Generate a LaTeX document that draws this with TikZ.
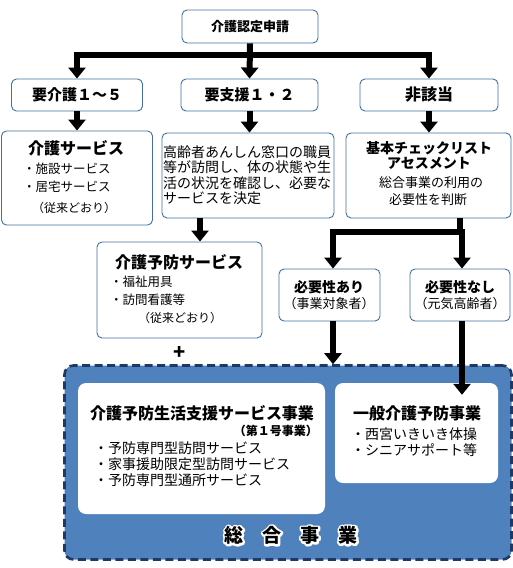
\documentclass[tikz,border=0pt]{standalone}
\usepackage{fontspec}
\setmainfont{Noto Sans CJK JP}
\usetikzlibrary{arrows.meta}
\definecolor{boxline}{RGB}{65,113,156}
\definecolor{regionfill}{RGB}{79,129,189}
\definecolor{regionline}{RGB}{31,56,100}
\newcommand{\jfs}[2]{\fontsize{#1}{#2}\selectfont}
\begin{document}
\begin{tikzpicture}[x=1pt,y=-1pt,
  box/.style={draw=boxline, line width=0.9pt, rounded corners=5pt, fill=white, inner sep=0pt},
  inbox/.style={fill=white, rounded corners=8pt, inner sep=0pt},
  txt/.style={inner sep=0pt, text=black},
  conn/.style={line width=6pt, black},
  tipend/.style={-{Triangle[width=17pt,length=11pt]}},
  tipboth/.style={{Triangle[width=17pt,length=11pt]}-{Triangle[width=17pt,length=11pt]}}
]
\useasboundingbox (0,0) rectangle (513,568);

% ---- big region ----
\node[draw=regionline, fill=regionfill, line width=2.6pt, dash pattern=on 8pt off 4.5pt,
      rounded corners=9pt, minimum width=447pt, minimum height=194pt, inner sep=0pt]
      (region) at (288,462.5) {};
\node[inbox, minimum width=247pt, minimum height=131pt] (inner1) at (201.5,448.5) {};
\node[inbox, minimum width=163pt, minimum height=100pt] (inner2) at (416.5,433) {};

% ---- boxes ----
\node[box, minimum width=136pt, minimum height=33pt] (apply) at (250,26.5) {};
\node[box, minimum width=131pt, minimum height=32pt] (kaigo) at (77,95) {};
\node[box, minimum width=137pt, minimum height=32pt] (shien) at (249.5,95) {};
\node[box, minimum width=138pt, minimum height=32pt] (higai) at (429,95) {};
\node[box, minimum width=151pt, minimum height=94pt] (kserv) at (77,178) {};
\node[box, minimum width=172pt, minimum height=85pt] (kourei) at (248,175.5) {};
\node[box, minimum width=165pt, minimum height=85pt] (check) at (428.5,175.5) {};
\node[box, minimum width=165pt, minimum height=96pt] (yobou) at (179.5,290) {};
\node[box, minimum width=101pt, minimum height=52pt] (ari) at (329.5,295) {};
\node[box, minimum width=100pt, minimum height=52pt] (nashi) at (460,295) {};

% ---- connectors ----
\coordinate (bar) at (250,55);
\coordinate (bar2) at (400,232);
\draw[conn, tipend] (apply.south) -- (shien.north);
\draw[conn, tipboth] (kaigo.north) -- (kaigo.north |- bar) -- (higai.north |- bar) -- (higai.north);
\draw[conn, tipend] (kaigo.south) -- (kserv.north);
\draw[conn, tipend] (shien.south) -- (shien.south |- kourei.north);
\draw[conn, tipend] (higai.south) -- (higai.south |- check.north);
\draw[conn, tipend] ([xshift=20.5pt]yobou.north |- kourei.south) -- ([xshift=20.5pt]yobou.north);
\draw[conn] (check.south -| nashi.north) -- (nashi.north |- bar2);
\draw[conn, tipboth] ([xshift=3.5pt]ari.north) -- ([xshift=3.5pt]ari.north |- bar2) -- ([xshift=2pt]nashi.north |- bar2) -- ([xshift=2pt]nashi.north);
\draw[conn, tipend] ([xshift=3.5pt]ari.south) -- ([xshift=3.5pt]ari.south |- region.north);
\draw[conn, tipend] ([xshift=2pt]nashi.south) -- ([xshift=2pt,yshift=-12pt]nashi.south |- inner2.north);

% ---- texts ----
\node[txt, font=\jfs{13}{13}\bfseries] (tapply) at (apply) {介護認定申請};
\node[txt, font=\jfs{15}{15}\bfseries] (tkaigo) at (kaigo) {要介護１～５};
\node[txt, font=\jfs{15}{15}\bfseries] (tshien) at (shien) {要支援１・２};
\node[txt, font=\jfs{16}{16}\bfseries] (thigai) at (higai) {非該当};

\node[txt, font=\jfs{16}{16}\bfseries] (tks1) at (76,148) {介護サービス};
\node[txt, font=\jfs{12.5}{12.5}, anchor=west] (tks2) at (23,169) {・施設サービス};
\node[txt, font=\jfs{12.5}{12.5}, anchor=west] (tks3) at (23,187) {・居宅サービス};
\node[txt, font=\jfs{12}{12}] (tks4) at (74,208) {（従来どおり）};

\node[txt, font=\jfs{14}{15.3}, align=left, anchor=north west] (tkou) at (163,145.5)
  {高齢者あんしん窓口の職員\\等が訪問し、体の状態や生\\活の状況を確認し、必要な\\サービスを決定};

\node[txt, font=\jfs{14}{14}\bfseries] (tch1) at (429,148) {基本チェックリスト};
\node[txt, font=\jfs{14}{14}\bfseries] (tch2) at (429,163) {アセスメント};
\node[txt, font=\jfs{13}{13}] (tch3) at (431,183) {総合事業の利用の};
\node[txt, font=\jfs{13}{13}] (tch4) at (428,200) {必要性を判断};

\node[txt, font=\jfs{16}{16}\bfseries] (tyo1) at (179,262) {介護予防サービス};
\node[txt, font=\jfs{12.5}{12.5}, anchor=west] (tyo2) at (110,282) {・福祉用具};
\node[txt, font=\jfs{12.5}{12.5}, anchor=west] (tyo3) at (110,300) {・訪問看護等};
\node[txt, font=\jfs{12}{12}] (tyo4) at (180,318) {（従来どおり）};

\node[txt, font=\jfs{14}{14}\bfseries] (tar1) at (329,287) {必要性あり};
\node[txt, font=\jfs{13}{13}] (tar2) at (329,303.5) {（事業対象者）};
\node[txt, font=\jfs{14}{14}\bfseries] (tna1) at (460,287) {必要性なし};
\node[txt, font=\jfs{13}{13}] (tna2) at (460,303.5) {（元気高齢者）};

\node[txt, font=\jfs{20}{20}\bfseries] (plus) at (180,353) {+};

\node[txt, font=\jfs{16}{16}\bfseries] (tin1) at (202,413.5) {介護予防生活支援サービス事業};
\node[txt, font=\jfs{12}{12}\bfseries, anchor=east] (tin2) at (318,431) {（第１号事業）};
\node[txt, font=\jfs{14}{16}, align=left, anchor=north west] (tin3) at (94,442)
  {・予防専門型訪問サービス\\・家事援助限定型訪問サービス\\・予防専門型通所サービス};

\node[txt, font=\jfs{16}{16}\bfseries] (tgen1) at (417,413.5) {一般介護予防事業};
\node[txt, font=\jfs{14}{16}, align=left, anchor=north west] (tgen2) at (351,428)
  {・西宮いきいき体操\\・シニアサポート等};

\node[txt, font=\jfs{19}{19}\bfseries] (tsougou) at (291,535.5)
  {\rlap{\special{pdf:literal direct 1 J 1 j 4 w 1 Tr}\color{white}総　合　事　業\special{pdf:literal direct 0 Tr 1 w}}総　合　事　業};
\end{tikzpicture}
\end{document}
